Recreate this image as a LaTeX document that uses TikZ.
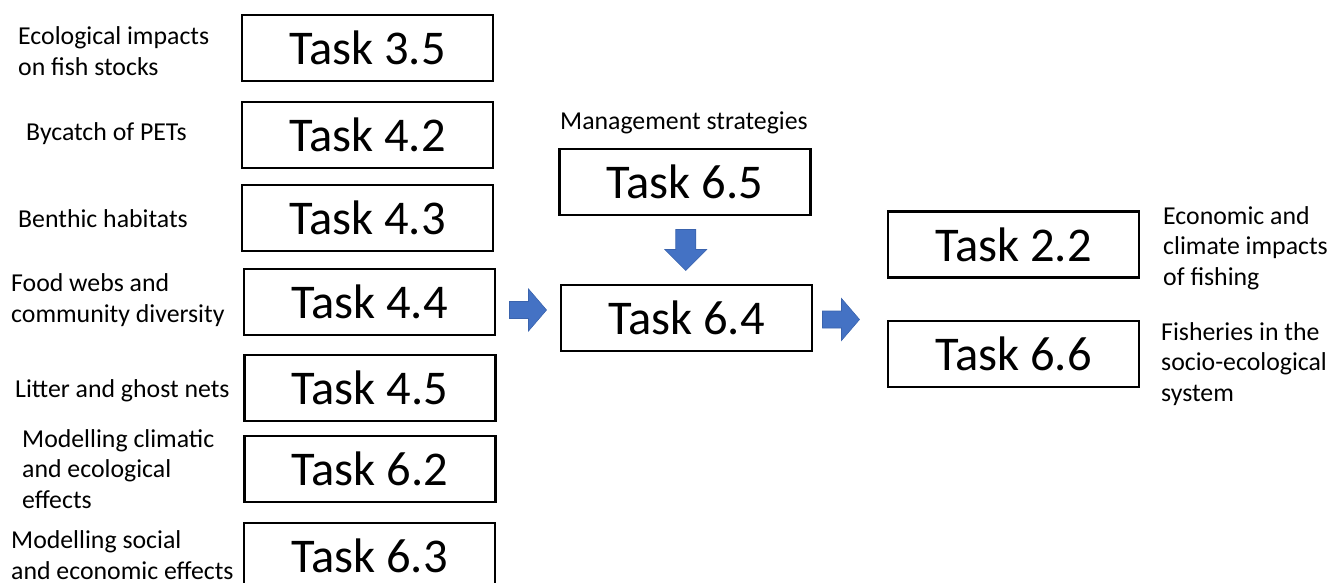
\documentclass[tikz,border=0pt]{standalone}
\usepackage{fontspec}
\setmainfont{Carlito}
\usetikzlibrary{calc}
\definecolor{arrowblue}{HTML}{4472C4}
\definecolor{arrowedge}{HTML}{3A63AD}
\tikzset{
    taskbox/.style={draw,line width=2.6pt,minimum width=251pt,minimum height=66pt,inner sep=0pt,font=\fontsize{48.5}{52}\selectfont},
    note/.style={inner sep=0pt,align=left,anchor=west,font=\fontsize{25.8}{30.5}\selectfont},
    blockarrow/.style={fill=arrowblue,draw=arrowedge,line width=0.6pt}
}
\begin{document}
\begin{tikzpicture}[x=1pt,y=-1pt]
    \useasboundingbox (0,0) rectangle (1330,583);
    % left column
    \node[taskbox] (t35) at (367.5,48) {Task 3.5};
    \node[taskbox] (t42) at (367.5,135) {Task 4.2};
    \node[taskbox] (t43) at (367.5,218) {Task 4.3};
    \node[taskbox] (t44) at (369.5,302) {Task 4.4};
    \node[taskbox] (t45) at (370,388) {Task 4.5};
    \node[taskbox] (t62) at (370,469) {Task 6.2};
    \node[taskbox] (t63) at (369.5,556) {Task 6.3};
    \node[note] (n35) at (18,51) {Ecological impacts\\on fish stocks};
    \node[note] (n42) at (26,134) {Bycatch of PETs};
    \node[note] (n43) at (18,219) {Benthic habitats};
    \node[note] (n44) at (11,300) {Food webs and\\community diversity};
    \node[note] (n45) at (15,391) {Litter and ghost nets};
    \node[note] (n62) at (22,469) {Modelling climatic\\and ecological\\effects};
    \node[note] (n63) at (11,555) {Modelling social\\and economic effects};
    % middle column
    \node[taskbox] (t65) at (685,182) {Task 6.5};
    \node[taskbox] (t64) at (686.5,318) {Task 6.4};
    \node[note,anchor=center] (n65) at (684,123) {Management strategies};
    % right column
    \node[taskbox] (t22) at (1013.5,244.5) {Task 2.2};
    \node[taskbox] (t66) at (1013.5,354) {Task 6.6};
    \node[note] (n22) at (1163,248) {Economic and\\climate impacts\\of fishing};
    \node[note] (n66) at (1161,364) {Fisheries in the\\socio-ecological\\system};
    % block arrows
    \coordinate (inL) at ($(t44.east)!0.5!(t64.west)$);
    \coordinate (outR) at (841,319.5);
    \coordinate (down) at ($(t65.south)!0.5!(t64.north)$);
    \filldraw[blockarrow] (inL) ++(-18.5,-8.5) -- ++(19,0) -- ++(0,-12.5) -- ++(18,21) -- ++(-18,21) -- ++(0,-12.5) -- ++(-19,0) -- cycle;
    \filldraw[blockarrow] (outR) ++(-18.5,-8.5) -- ++(19,0) -- ++(0,-12.5) -- ++(18,21) -- ++(-18,21) -- ++(0,-12.5) -- ++(-19,0) -- cycle;
    \filldraw[blockarrow] (down) ++(-10,-20.5) -- ++(0,20) -- ++(-11,0) -- ++(21,21) -- ++(21,-21) -- ++(-11,0) -- ++(0,-20) -- cycle;
\end{tikzpicture}
\end{document}
